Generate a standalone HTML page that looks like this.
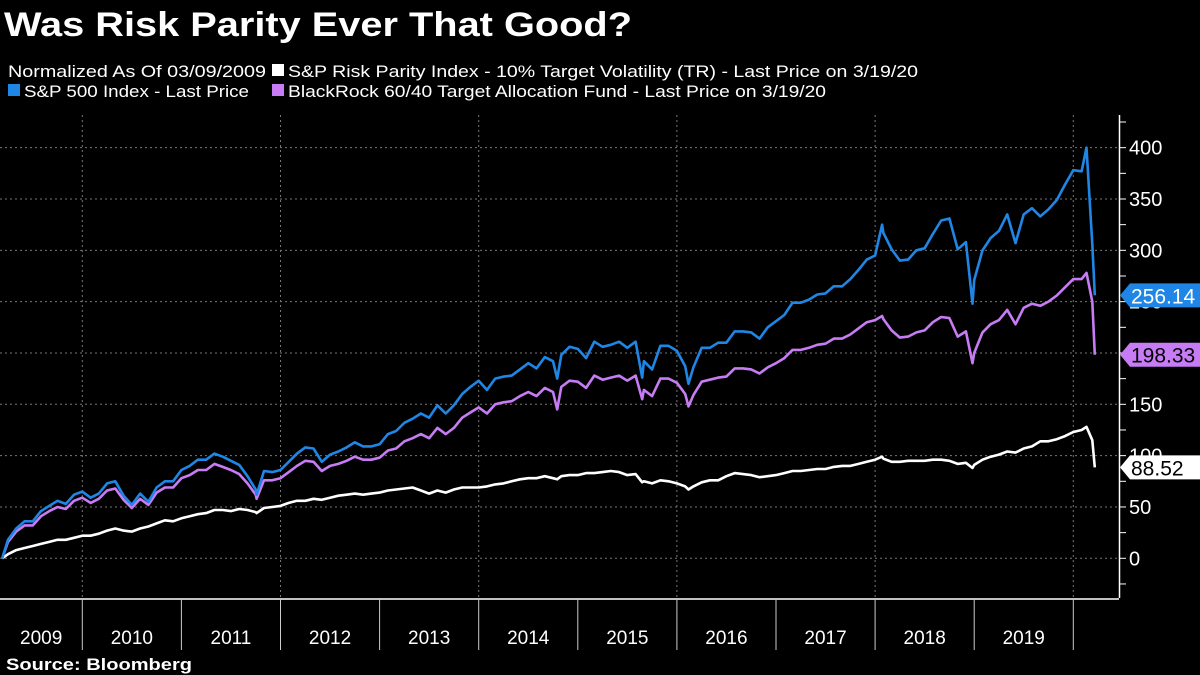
<!DOCTYPE html>
<html><head><meta charset="utf-8"><style>
html,body{margin:0;padding:0;background:#000;}
svg{display:block;font-family:"Liberation Sans",sans-serif;}
</style></head><body>
<svg id="chart" width="1200" height="675" viewBox="0 0 1200 675">
<rect width="1200" height="675" fill="#000"/>
<text x="4" y="36" fill="#fff" font-weight="bold" font-size="34" textLength="628" lengthAdjust="spacingAndGlyphs">Was Risk Parity Ever That Good?</text>
<g font-size="17" fill="#fff">
<text x="8" y="77" textLength="258" lengthAdjust="spacingAndGlyphs">Normalized As Of 03/09/2009</text>
<rect x="272" y="64" width="12" height="12" fill="#fff"/>
<text x="288" y="77" textLength="630" lengthAdjust="spacingAndGlyphs">S&amp;P Risk Parity Index - 10% Target Volatility (TR) - Last Price on 3/19/20</text>
<rect x="8" y="84" width="12" height="12" fill="#1f86e6"/>
<text x="24" y="97" textLength="225" lengthAdjust="spacingAndGlyphs">S&amp;P 500 Index - Last Price</text>
<rect x="272" y="84" width="12" height="12" fill="#c77cf5"/>
<text x="288" y="97" textLength="538" lengthAdjust="spacingAndGlyphs">BlackRock 60/40 Target Allocation Fund - Last Price on 3/19/20</text>
</g>
<g id="grid"></g>
<g id="series"></g>
<g id="yaxis"></g>
<g id="xaxis"></g>
<g id="labels"></g>
<text x="6" y="670" fill="#fff" font-weight="bold" font-size="17" textLength="186" lengthAdjust="spacingAndGlyphs">Source: Bloomberg</text>
</svg>
<script>
// months since Jan 1 2009
const dates = [2.3,3,4,5,6,7,8,9,10,11,12,
13,14,15,16,17,18,19,20,21,22,23,24,
25,26,27,28,29,30,31,32,33,33.1,34,35,36,
37,38,39,40,41,42,43,44,45,46,47,48,
49,50,51,52,53,54,55,56,57,58,59,60,
61,62,63,64,65,66,67,68,69,69.5,70,71,72,
73,74,75,76,77,78,79,79.8,80,81,82,83,84,
85,85.4,86,87,88,89,90,91,92,93,94,95,96,
97,98,99,100,101,102,103,104,105,106,107,108,
108.85,109,110,111,112,113,114,115,116,117,118,119,119.8,120,
121,122,123,124,125,126,127,128,129,130,131,132,
133,133.6,134.3,134.6];
const sp500 = [0,18,29,36,36,46,51,56,53,62,65,
59,63,73,75,61,52,63,55,69,75,75,86,
90,96,96,102,99,95,91,80,67,62,85,84,86,
94,102,108,107,94,101,104,108,113,109,109,111,
121,124,132,136,141,137,149,141,149,160,167,173,
164,175,177,178,184,190,185,196,192,175,198,206,204,
195,211,206,208,211,205,211,176,192,184,207,207,202,
187,170,186,205,205,210,210,221,221,220,214,225,231,
237,249,249,252,257,258,265,265,272,281,291,295,
325,317,301,290,291,300,302,316,329,331,301,308,248,271,
300,312,319,335,307,335,341,333,340,349,364,378,
377,400,306,256.14];
const blackrock = [0,16,26,32,32,41,46,50,48,56,59,
54,58,66,68,57,49,58,52,64,69,69,78,
81,86,86,92,89,86,82,73,62,58,76,76,78,
84,90,95,94,85,90,92,95,99,96,96,98,
105,107,114,117,121,117,127,121,127,137,142,147,
141,150,152,153,158,162,158,166,162,145,167,173,172,
166,178,174,176,178,173,178,155,164,158,175,175,171,
160,148,159,172,174,176,177,185,185,184,180,186,190,
195,203,203,205,208,209,214,214,218,224,230,232,
236,233,222,215,216,220,222,230,235,234,216,221,190,200,
220,228,232,242,228,244,248,246,250,256,264,272,
272,278,250,198.33];
const riskParity = [0,4,8,10,12,14,16,18,18,20,22,
22,24,27,29,27,26,29,31,34,37,36,39,
41,43,44,47,47,46,48,47,45,44,49,50,51,
54,56,56,58,57,59,61,62,63,62,63,64,
66,67,68,69,66,63,66,64,67,69,69,69,
70,72,73,75,77,78,78,80,78,77,80,81,81,
83,83,84,85,84,81,82,74,75,73,76,75,73,
70,67,70,74,76,76,80,83,82,81,79,80,81,
83,85,85,86,87,87,89,90,90,92,94,96,
99,97,94,94,95,95,95,96,96,95,92,93,88,91,
96,99,101,104,103,107,109,114,114,116,119,123,
125,128,115,88.52];
const yTicks = [0,50,100,150,200,250,300,350,400];
const yearLabels = ["2009","2010","2011","2012","2013","2014","2015","2016","2017","2018","2019"];

const NS = "http://www.w3.org/2000/svg";
function xs(t){ return 82.3 + (t/12 - 1) * 99.1; }
function ys(v){ return 558.3 - v * 1.0266; }
function mk(tag, attrs, parent){ const e = document.createElementNS(NS, tag); for (const k in attrs) e.setAttribute(k, attrs[k]); parent.appendChild(e); return e; }

const grid = document.getElementById('grid');
yTicks.forEach(v => {
  const l = mk('line', {x1:0, x2:1119, y1:ys(v), y2:ys(v), stroke:'#777', 'stroke-width':1, 'stroke-dasharray':'2,3'}, grid);
  
  
});
[2010,2012,2014,2016,2018,2020].forEach(yr => {
  const x = xs((yr-2009)*12);
  const l = mk('line', {x1:x, x2:x, y1:115, y2:598, stroke:'#777', 'stroke-width':1, 'stroke-dasharray':'2,3'}, grid);
  
  
});

const ser = document.getElementById('series');
function line(vals, color, name){
  const d = vals.map((v,i) => (i ? 'L' : 'M') + xs(dates[i]).toFixed(1) + ',' + ys(v).toFixed(1)).join('');
  const p = mk('path', {d:d, fill:'none', stroke:color, 'stroke-width':2.6, 'stroke-linejoin':'round'}, ser);
  
  
}
line(riskParity, '#ffffff', 'risk-parity-line');
line(blackrock, '#c77cf5', 'blackrock-line');
line(sp500, '#1f86e6', 'sp500-line');

const ya = document.getElementById('yaxis');
const ax = mk('line', {x1:1119.5, x2:1119.5, y1:115, y2:598, stroke:'#fff', 'stroke-width':1.5}, ya);


for (let v = -25; v <= 425; v += 25) {
  const t = mk('line', {x1:1119, x2:1126, y1:ys(v), y2:ys(v), stroke:'#fff', 'stroke-width':1}, ya);
  
  
}
yTicks.forEach(v => {
  const t = mk('text', {x:1129, y:ys(v)+7, fill:'#fff', 'font-size':20}, ya);
  t.textContent = v;
  
  
});

const xa = document.getElementById('xaxis');
const bl = mk('line', {x1:0, x2:1119, y1:599, y2:599, stroke:'#fff', 'stroke-width':1.5}, xa);


yearLabels.forEach((yr, i) => {
  const x0 = i === 0 ? 0 : xs(i*12);
  const x1 = xs((i+1)*12);
  if (i > 0) {
    const s = mk('line', {x1:x0, x2:x0, y1:599, y2:650, stroke:'#ccc', 'stroke-width':1}, xa);
    
    
  }
  const t = mk('text', {x:(x0+x1)/2, y:644, fill:'#fff', 'font-size':19, 'text-anchor':'middle'}, xa);
  t.textContent = yr;
  
  
});
const s2 = mk('line', {x1:xs(132), x2:xs(132), y1:599, y2:650, stroke:'#ccc', 'stroke-width':1}, xa);



const lab = document.getElementById('labels');
function tag(val, color, textColor, name){
  const y = ys(val);
  const g = mk('g', {}, lab);
  
  
  mk('path', {d:`M1120,${y} L1130,${y-12} L1200,${y-12} L1200,${y+12} L1130,${y+12} Z`, fill:color}, g);
  const t = mk('text', {x:1131, y:y+8, fill:textColor, 'font-size':21}, g);
  t.textContent = val.toFixed(2);
}
tag(sp500[sp500.length-1], '#1f86e6', '#fff', 'sp500-last-value');
tag(blackrock[blackrock.length-1], '#c77cf5', '#000', 'blackrock-last-value');
tag(riskParity[riskParity.length-1], '#fff', '#000', 'risk-parity-last-value');
</script>
</body></html>
